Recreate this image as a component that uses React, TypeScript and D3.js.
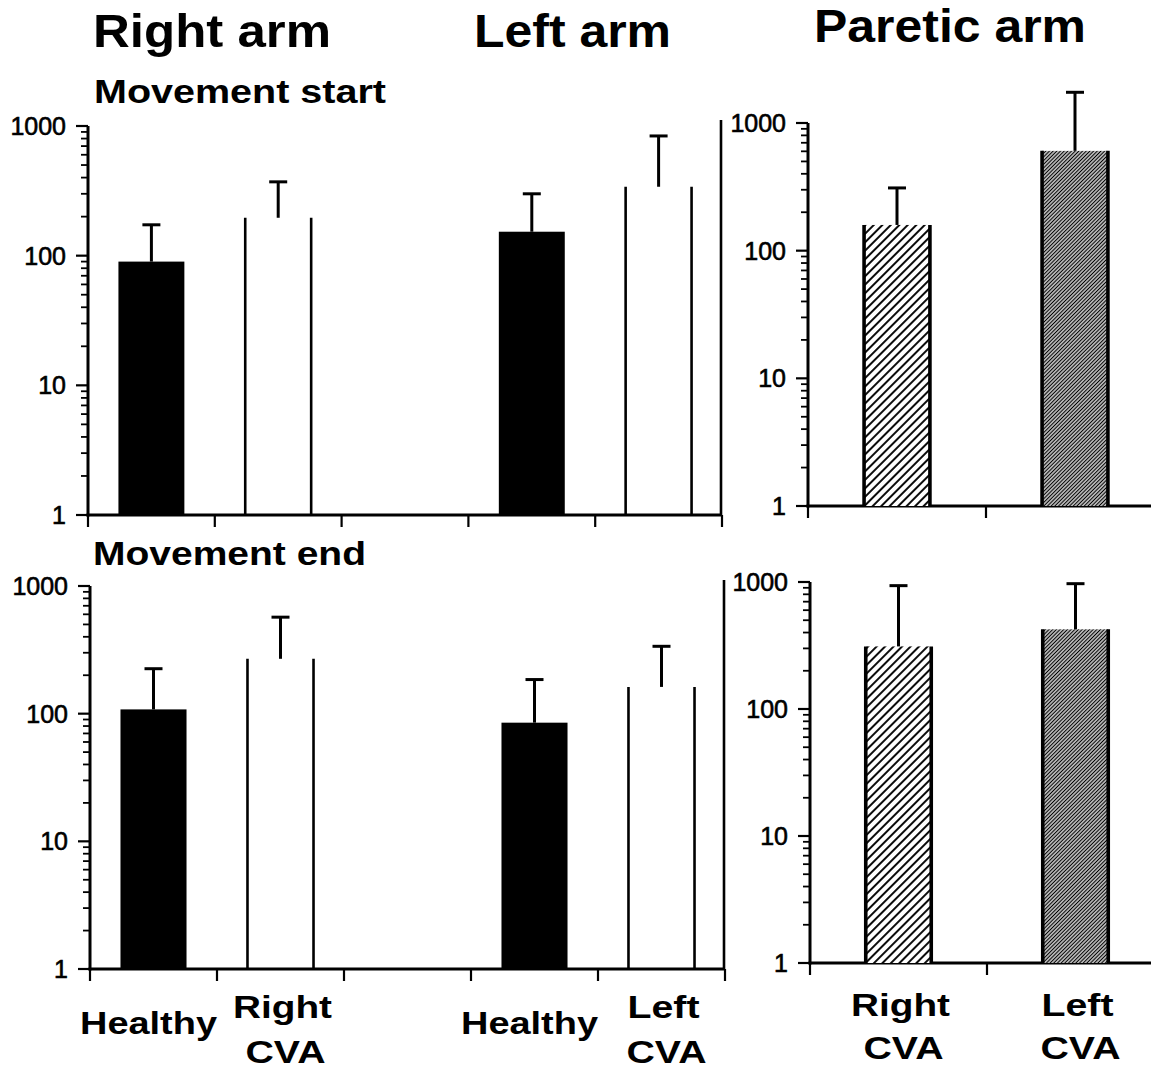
import React from "react";
import * as d3 from "d3";

// ---------- data ----------
const armCategories = ["Healthy R", "Right CVA", "gap", "Healthy L", "Left CVA"];
const armKinds = ["solid", "open", "none", "solid", "open"];
const pareticCategories = ["Right CVA", "Left CVA"];
const pareticKinds = ["hatch", "dense"];
const yTickValues = [1, 10, 100, 1000];

const startArmMeans = [90, 196, null, 153, 340];
const startArmErrTop = [173, 371, null, 300, 838];
const endArmMeans = [108, 269, null, 85, 162];
const endArmErrTop = [225, 570, null, 185, 337];
const startPareticMeans = [159, 605];
const startPareticErrTop = [310, 1740];
const endPareticMeans = [311, 424];
const endPareticErrTop = [936, 970];

const titles = ["Right arm", "Left arm", "Paretic arm"];
const rowTitles = ["Movement start", "Movement end"];
const armLabels = [["Healthy"], ["Right", "CVA"], [], ["Healthy"], ["Left", "CVA"]];
const pareticLabels = [["Right", "CVA"], ["Left", "CVA"]];

const FONT = "'Liberation Sans', Arial, Helvetica, sans-serif";

type PanelProps = {
  x0: number;
  x1: number;
  axisEnd: number;
  base: number;
  top: number;
  cats: string[];
  kinds: string[];
  means: (number | null)[];
  errs: (number | null)[];
  padInner: number;
  rightLine?: boolean;
};

function Panel(p: PanelProps) {
  const y = d3.scaleLog().domain([1, 1000]).range([p.base, p.top]);
  const x = d3
    .scaleBand<string>()
    .domain(p.cats)
    .range([p.x0, p.x1])
    .paddingInner(p.padInner)
    .paddingOuter(p.padInner / 2);
  const step = x.step();
  const bw = x.bandwidth();
  const minor: number[] = [];
  [1, 10, 100].forEach((d) => {
    for (let k = 2; k <= 9; k++) minor.push(d * k);
  });
  const xticks = d3.range(p.cats.length + 1).map((i) => p.x0 + i * step).filter((v) => v <= 1151);
  return (
    <g>
      {/* y axis */}
      <line x1={p.x0} x2={p.x0} y1={y(1) + 1.5} y2={y(1000)} stroke="#000" strokeWidth={3} />
      {yTickValues.map((v) => (
        <g key={v}>
          <line x1={p.x0 - 12} x2={p.x0} y1={y(v)} y2={y(v)} stroke="#000" strokeWidth={2.2} />
          <text
            x={p.x0 - 22}
            y={y(v)}
            dy="0.36em"
            textAnchor="end"
            fontSize={25}
            fontFamily={FONT}
            fill="#000"
            stroke="#000"
            strokeWidth={0.6}
          >
            {v}
          </text>
        </g>
      ))}
      {minor.map((v) => (
        <line key={v} x1={p.x0 - 7} x2={p.x0} y1={y(v)} y2={y(v)} stroke="#000" strokeWidth={1.8} />
      ))}
      {/* x axis */}
      <line x1={p.x0 - 1.5} x2={p.axisEnd} y1={p.base} y2={p.base} stroke="#000" strokeWidth={3} />
      {xticks.map((t, i) => (
        <line key={i} x1={t} x2={t} y1={p.base} y2={p.base + 12} stroke="#000" strokeWidth={2.2} />
      ))}
      {p.rightLine && (
        <line
          x1={p.x1 - 1}
          x2={p.x1 - 1}
          y1={y(1000) - 6}
          y2={p.base}
          stroke="#000"
          strokeWidth={2.6}
        />
      )}
      {/* bars */}
      {p.cats.map((c, i) => {
        const m = p.means[i];
        const e = p.errs[i];
        if (m == null || e == null) return null;
        const bx = x(c) as number;
        const cx = bx + bw / 2;
        const ty = y(m);
        const kind = p.kinds[i];
        return (
          <g key={c}>
            {kind === "solid" && (
              <rect x={bx} y={ty} width={bw} height={p.base - ty} fill="#000" />
            )}
            {kind === "open" && (
              <g>
                <line x1={bx} x2={bx} y1={ty} y2={p.base} stroke="#000" strokeWidth={2.6} />
                <line x1={bx + bw} x2={bx + bw} y1={ty} y2={p.base} stroke="#000" strokeWidth={2.6} />
              </g>
            )}
            {(kind === "hatch" || kind === "dense") && (
              <g>
                <rect
                  x={bx}
                  y={ty}
                  width={bw}
                  height={p.base - ty}
                  fill={kind === "hatch" ? "url(#hatchSparse)" : "url(#hatchDense)"}
                />
                <line x1={bx} x2={bx} y1={ty} y2={p.base} stroke="#000" strokeWidth={3.6} />
                <line x1={bx + bw} x2={bx + bw} y1={ty} y2={p.base} stroke="#000" strokeWidth={3.6} />
              </g>
            )}
            <line x1={cx} x2={cx} y1={ty} y2={y(e)} stroke="#000" strokeWidth={3} />
            <line x1={cx - 9} x2={cx + 9} y1={y(e)} y2={y(e)} stroke="#000" strokeWidth={3} />
          </g>
        );
      })}
    </g>
  );
}

function CatLabels({
  x0,
  x1,
  cats,
  labels,
  padInner,
  baselines,
}: {
  x0: number;
  x1: number;
  cats: string[];
  labels: string[][];
  padInner: number;
  baselines: { one: number; two: [number, number] };
}) {
  const x = d3
    .scaleBand<string>()
    .domain(cats)
    .range([x0, x1])
    .paddingInner(padInner)
    .paddingOuter(padInner / 2);
  const widthOf: Record<string, number> = { Healthy: 137, Right: 99, Left: 72, CVA: 80 };
  const shift: Record<string, number> = { Healthy: -5, Right: 2, Left: 2, CVA: 5 };
  return (
    <g>
      {cats.map((c, i) => {
        const lines = labels[i];
        if (!lines.length) return null;
        const cx = (x(c) as number) + x.bandwidth() / 2;
        const ys = lines.length === 1 ? [baselines.one] : baselines.two;
        return lines.map((t, j) => (
          <text
            key={c + j}
            x={cx - widthOf[t] / 2 + shift[t]}
            y={ys[j]}
            fontSize={32}
            fontWeight="bold"
            fontFamily={FONT}
            textLength={widthOf[t]}
            lengthAdjust="spacingAndGlyphs"
            fill="#000"
          >
            {t}
          </text>
        ));
      })}
    </g>
  );
}

function Title({ x, y, w, size, text }: { x: number; y: number; w: number; size: number; text: string }) {
  return (
    <text
      x={x}
      y={y}
      fontSize={size}
      fontWeight="bold"
      fontFamily={FONT}
      textLength={w}
      lengthAdjust="spacingAndGlyphs"
      fill="#000"
    >
      {text}
    </text>
  );
}

export default function App() {
  return (
    <svg
      width={1151}
      height={1069}
      viewBox="0 0 1151 1069"
      style={{ position: "absolute", left: 0, top: 0, background: "#fff", display: "block" }}
    >
      <defs>
        <pattern
          id="hatchSparse"
          patternUnits="userSpaceOnUse"
          width={6}
          height={6}
          patternTransform="rotate(45)"
        >
          <rect width={6} height={6} fill="#fff" />
          <line x1={3} x2={3} y1={0} y2={6} stroke="#000" strokeWidth={1.9} />
        </pattern>
        <pattern
          id="hatchDense"
          patternUnits="userSpaceOnUse"
          width={2.6}
          height={2.6}
          patternTransform="rotate(45)"
        >
          <rect width={2.6} height={2.6} fill="#fff" />
          <line x1={1.3} x2={1.3} y1={0} y2={2.6} stroke="#000" strokeWidth={1.4} />
        </pattern>
      </defs>
      <rect width={1151} height={1069} fill="#fff" />

      <Title x={93} y={47} w={238} size={46} text={titles[0]} />
      <Title x={474} y={47} w={197} size={46} text={titles[1]} />
      <Title x={814} y={42} w={272} size={46} text={titles[2]} />
      <Title x={94} y={103} w={292} size={33} text={rowTitles[0]} />
      <Title x={93} y={565} w={273} size={33} text={rowTitles[1]} />

      <Panel
        x0={88}
        x1={722}
        axisEnd={722}
        base={515}
        top={126}
        cats={armCategories}
        kinds={armKinds}
        means={startArmMeans}
        errs={startArmErrTop}
        padInner={0.48}
        rightLine
      />
      <Panel
        x0={90}
        x1={725}
        axisEnd={725}
        base={969}
        top={586}
        cats={armCategories}
        kinds={armKinds}
        means={endArmMeans}
        errs={endArmErrTop}
        padInner={0.48}
        rightLine
      />
      <Panel
        x0={808}
        x1={1164}
        axisEnd={1151}
        base={506}
        top={123}
        cats={pareticCategories}
        kinds={pareticKinds}
        means={startPareticMeans}
        errs={startPareticErrTop}
        padInner={0.63}
      />
      <Panel
        x0={810}
        x1={1164}
        axisEnd={1151}
        base={963}
        top={582}
        cats={pareticCategories}
        kinds={pareticKinds}
        means={endPareticMeans}
        errs={endPareticErrTop}
        padInner={0.63}
      />

      <CatLabels
        x0={90}
        x1={725}
        cats={armCategories}
        labels={armLabels}
        padInner={0.48}
        baselines={{ one: 1034, two: [1018, 1063] }}
      />
      <CatLabels
        x0={810}
        x1={1164}
        cats={pareticCategories}
        labels={pareticLabels}
        padInner={0.63}
        baselines={{ one: 1034, two: [1016, 1059] }}
      />
    </svg>
  );
}
